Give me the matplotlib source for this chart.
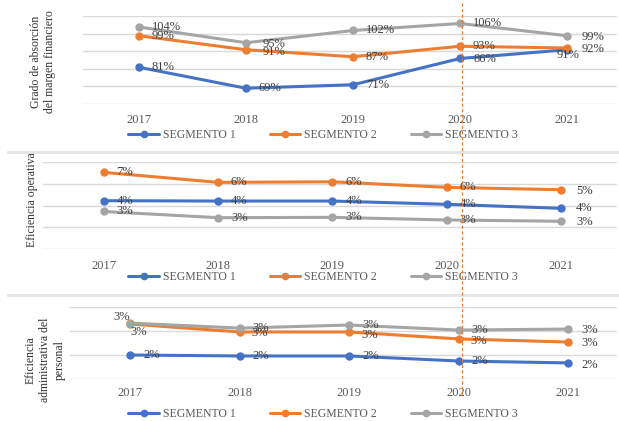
import matplotlib
matplotlib.use("Agg")
import matplotlib.pyplot as plt
from matplotlib.lines import Line2D

plt.rcParams['font.family'] = ['Liberation Serif', 'DejaVu Serif']

W, H, DPI = 619, 421, 100

years = ["2017", "2018", "2019", "2020", "2021"]
series_names = ["SEGMENTO 1", "SEGMENTO 2", "SEGMENTO 3"]
colors = ["#4472C4", "#ED7D31", "#A5A5A5"]

# Grado de absorción del margen financiero (%)
absorcion_s1 = [81, 69, 71, 86, 91]
absorcion_s2 = [99, 91, 87, 93, 92]
absorcion_s3 = [104, 95, 102, 106, 99]

# Eficiencia operativa (%)
operativa_s1 = [4.44, 4.41, 4.41, 4.11, 3.74]
operativa_s2 = [7.05, 6.13, 6.18, 5.67, 5.45]
operativa_s3 = [3.45, 2.88, 2.91, 2.67, 2.55]

# Eficiencia administrativa del personal (%)
personal_s1 = [2.00, 1.96, 1.96, 1.75, 1.67]
personal_s2 = [3.29, 2.96, 2.96, 2.67, 2.54]
personal_s3 = [3.33, 3.12, 3.25, 3.04, 3.08]

GRID = "#D9D9D9"
TICK_COLOR = "#595959"
LABEL_COLOR = "#404040"

fig = plt.figure(figsize=(W / DPI, H / DPI), dpi=DPI)
fig.patch.set_facecolor("white")


def px_rect(left, top, right, bottom):
    return [left / W, 1 - bottom / H, (right - left) / W, (bottom - top) / H]


def fx(x):
    return x / W


def fy(y):
    return 1 - y / H


def panel(rect, data, ylim, yticks, xlim, label_offsets, tick_pad, legend_y, ylabel, ylabel_xy):
    ax = fig.add_axes(px_rect(*rect))
    xs = list(range(len(years)))
    handles = []
    for vals, name, col in zip(data, series_names, colors):
        h, = ax.plot(xs, vals, color=col, lw=2.2, marker="o", ms=5,
                     solid_capstyle="round", label=name, zorder=3)
        handles.append(h)
    for s_idx, vals in enumerate(data):
        for i, v in enumerate(vals):
            dx, dy, ha = label_offsets[s_idx][i]
            ax.annotate(f"{v:.0f}%", (i, v), xytext=(dx * 0.72, -dy * 0.72),
                        textcoords="offset points", ha=ha, va="center",
                        fontsize=9, color=LABEL_COLOR, zorder=4)
    ax.set_ylim(*ylim)
    ax.set_xlim(*xlim)
    ax.set_yticks(yticks)
    ax.set_yticklabels([])
    ax.yaxis.grid(True, color=GRID, lw=1)
    ax.set_axisbelow(True)
    ax.set_xticks(xs)
    ax.set_xticklabels(years)
    ax.tick_params(axis="both", length=0, labelsize=9, colors=TICK_COLOR, pad=tick_pad)
    for sp in ax.spines.values():
        sp.set_visible(False)
    ax.set_facecolor("none")
    ax.legend(handles=handles, loc="center", bbox_to_anchor=(fx(323), fy(legend_y)),
              bbox_transform=fig.transFigure, ncol=3, frameon=False, fontsize=8.5,
              handlelength=2.6, handletextpad=0.3, columnspacing=2.9,
              labelcolor=TICK_COLOR, markerscale=0.9)
    fig.text(fx(ylabel_xy[0]), fy(ylabel_xy[1]), ylabel, rotation=90, ha="center",
             va="center", multialignment="center", fontsize=8.5, color="#333333",
             linespacing=1.3)
    return ax


R = (13, 0, "left")

# Panel 1
off1 = [
    [R, R, R, R, (1, 5, "center")],
    [R, (17, 2, "left"), R, R, (15, 1, "left")],
    [R, (17, 1, "left"), R, R, (15, 1, "left")],
]
panel((83, 16.5, 617, 104), [absorcion_s1, absorcion_s2, absorcion_s3],
      (60, 110), [60, 70, 80, 90, 100, 110], (-0.523, 4.467), off1, 7, 135,
      "Grado de absorción\ndel margen financiero", (43, 62))

# Panel 2
off2 = [
    [R, R, R, R, (15, 0, "left")],
    [R, R, R, R, (15, 1, "left")],
    [R, R, R, R, (15, 1, "left")],
]
panel((43, 162, 617, 249), [operativa_s1, operativa_s2, operativa_s3],
      (0, 8), [0, 2, 4, 6, 8], (-0.529, 4.489), off2, 8, 277,
      "Eficiencia operativa", (32, 200))

# Panel 3
off3 = [
    [R, R, R, R, (13, 2, "left")],
    [(8, 8, "center"), (12, 1, "left"), (12, 3, "left"), (12, 2, "left"), (13, 1, "left")],
    [(-9, -6, "center"), R, R, R, (13, 1, "left")],
]
panel((70, 307, 617, 379), [personal_s1, personal_s2, personal_s3],
      (1, 4), [1, 2, 3, 4], (-0.552, 4.448), off3, 6, 414,
      "Eficiencia\nadministrativa del\npersonal", (45, 360))

# separators between the three blocks
for y in (152, 295):
    fig.add_artist(Line2D([fx(8), fx(619)], [fy(y), fy(y)], color="#E4E4E4", lw=2))

# dashed reference line at 2020
fig.add_artist(Line2D([fx(461.5), fx(461.5)], [fy(3), fy(395)], color="#ED7D31",
                      lw=0.8, dashes=(3, 2)))

fig.savefig("out.png", dpi=DPI, facecolor="white")
